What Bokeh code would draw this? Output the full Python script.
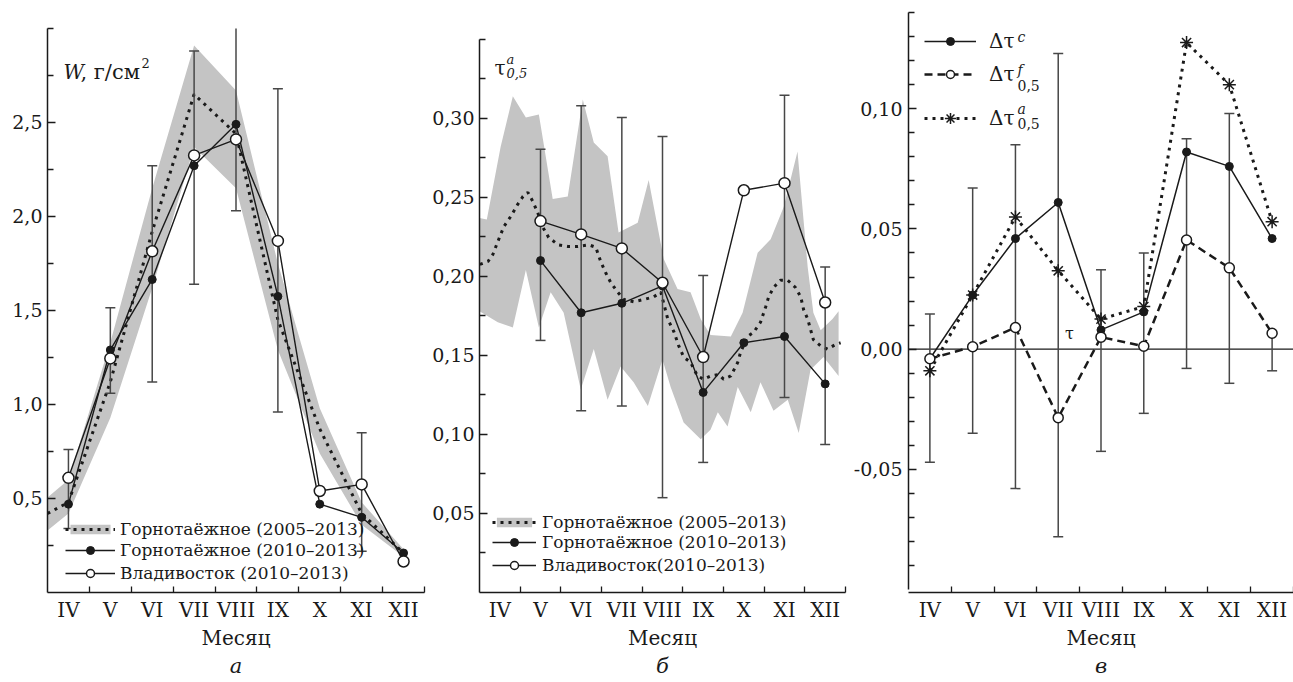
from bokeh.plotting import figure
from bokeh.models import (FixedTicker, CustomJSTickFormatter, Legend, LegendItem, Label, Span,
                          LinearAxis)
from bokeh.layouts import row
from bokeh.embed import file_html
from bokeh.resources import INLINE

FONT = "DejaVu Serif"
INK = "#1a1a1a"
ERR = "#474747"
BAND = "#c4c4c4"

months = ["IV", "V", "VI", "VII", "VIII", "IX", "X", "XI", "XII"]
month_pos = [1, 2, 3, 4, 5, 6, 7, 8, 9]

# ---------- panel a : W, g/cm2 ----------
a_band_x = [0.5, 1, 2, 3, 4, 5, 6, 7, 8, 9]
a_band_lo = [0.33, 0.42, 0.93, 1.62, 2.37, 2.15, 1.29, 0.74, 0.36, 0.19]
a_band_hi = [0.505, 0.60, 1.33, 2.15, 2.91, 2.67, 1.75, 0.98, 0.48, 0.23]
a_mean = [0.42, 0.48, 1.12, 1.92, 2.65, 2.44, 1.45, 0.87, 0.42, 0.21]
a_gorno = [0.47, 1.29, 1.665, 2.27, 2.49, 1.575, 0.47, 0.40, 0.21]
a_vlad = [0.61, 1.245, 1.815, 2.325, 2.41, 1.87, 0.54, 0.575, 0.165]
a_err_x = [1, 2, 3, 4, 5, 6, 8]
a_err_lo = [0.34, 1.06, 1.12, 1.64, 2.03, 0.96, 0.22]
a_err_hi = [0.76, 1.515, 2.27, 2.88, 3.0, 2.68, 0.85]

# ---------- panel b : tau^a_0.5 ----------
b_hi_x = [0.5, 0.68, 1.02, 1.32, 1.64, 1.96, 2.30, 2.67, 3.04, 3.31,
          3.65, 3.92, 4.39, 4.66, 5.03, 5.37, 5.69, 5.94, 6.18, 6.68,
          6.97, 7.34, 7.66, 7.98, 8.32, 8.57, 8.71, 8.89, 9.18, 9.33]
b_hi = [0.237, 0.236, 0.282, 0.314, 0.3006, 0.3025, 0.249, 0.2506, 0.312, 0.2848,
        0.276, 0.2278, 0.234, 0.261, 0.211, 0.192, 0.19, 0.173, 0.163, 0.162,
        0.177, 0.215, 0.2235, 0.244, 0.279, 0.206, 0.177, 0.166, 0.173, 0.178]
b_lo_x = [0.5, 0.95, 1.32, 1.64, 1.96, 2.25, 2.57, 2.99, 3.31, 3.65,
          3.97, 4.29, 4.64, 5.00, 5.20, 5.52, 5.94, 6.18, 6.36, 6.60,
          6.85, 7.17, 7.41, 7.73, 8.08, 8.35, 8.64, 8.96, 9.33]
b_lo = [0.178, 0.171, 0.1677, 0.204, 0.1677, 0.19, 0.177, 0.1285, 0.154, 0.122,
        0.143, 0.133, 0.118, 0.1475, 0.130, 0.1076, 0.097, 0.103, 0.114, 0.105,
        0.130, 0.114, 0.133, 0.115, 0.122, 0.101, 0.141, 0.149, 0.137]
b_mean_x = [0.51, 0.71, 0.83, 0.95, 1.10, 1.27, 1.44, 1.57, 1.69, 1.81,
            1.93, 2.06, 2.20, 2.43, 2.67, 2.92, 3.19, 3.36, 3.48, 3.60,
            3.73, 3.90, 4.05, 4.29, 4.54, 4.78, 4.96, 5.13, 5.28, 5.40,
            5.52, 5.69, 5.86, 6.01, 6.18, 6.38, 6.50, 6.68, 6.85, 6.92,
            7.09, 7.24, 7.41, 7.54, 7.61, 7.73, 7.90, 8.08, 8.27, 8.40,
            8.47, 8.57, 8.71, 8.89, 9.06, 9.26, 9.38]
b_mean = [0.2076, 0.2095, 0.214, 0.222, 0.2316, 0.238, 0.2456, 0.2506, 0.2532, 0.2475,
          0.2405, 0.231, 0.2247, 0.220, 0.219, 0.219, 0.220, 0.2184, 0.2095, 0.2025,
          0.196, 0.190, 0.1854, 0.184, 0.1854, 0.187, 0.19, 0.173, 0.165, 0.156,
          0.149, 0.1456, 0.137, 0.135, 0.137, 0.138, 0.135, 0.137, 0.1456, 0.152,
          0.162, 0.1646, 0.171, 0.181, 0.187, 0.193, 0.1975, 0.1975, 0.193, 0.187,
          0.179, 0.173, 0.160, 0.156, 0.154, 0.157, 0.158]
b_pos = [2, 3, 4, 5, 6, 7, 8, 9]
b_gorno = [0.21, 0.177, 0.183, 0.194, 0.1266, 0.158, 0.162, 0.132]
b_vlad = [0.235, 0.2266, 0.2177, 0.196, 0.149, 0.2545, 0.259, 0.1835]
b_err_x = [2, 3, 4, 5, 6, 8, 9]
b_err_lo = [0.1595, 0.115, 0.118, 0.060, 0.0823, 0.1234, 0.0937]
b_err_hi = [0.2804, 0.308, 0.3006, 0.2886, 0.2006, 0.3146, 0.206]

# ---------- panel c : differences ----------
c_dc = [-0.004, 0.0225, 0.046, 0.061, 0.008, 0.0155, 0.082, 0.076, 0.046]
c_df = [-0.004, 0.001, 0.009, -0.0285, 0.005, 0.0012, 0.0454, 0.0338, 0.0066]
c_da = [-0.009, 0.0225, 0.055, 0.0326, 0.0125, 0.0177, 0.1275, 0.110, 0.053]
c_err_lo = [-0.047, -0.035, -0.058, -0.078, -0.0425, -0.0267, -0.008, -0.0142, -0.009]
c_err_hi = [0.0146, 0.067, 0.085, 0.123, 0.033, 0.040, 0.0875, 0.098, 0.0066]

legend_a = ["Горнотаёжное (2005–2013)", "Горнотаёжное (2010–2013)", "Владивосток (2010–2013)"]
legend_b = ["Горнотаёжное (2005–2013)", "Горнотаёжное (2010–2013)", "Владивосток(2010–2013)"]
panel_letters = ["а", "б", "в"]


def base_fig(width, bl, br, y0, y1, bounds, y_major, y_minor, digits, letter, y_standoff):
    p = figure(width=width, height=682, x_range=(0.5, 9.5), y_range=(y0, y1),
               output_backend="svg", toolbar_location=None, title=None,
               min_border_left=bl, min_border_right=br, min_border_top=12, min_border_bottom=90,
               outline_line_color=None, background_fill_color="white", border_fill_color="white")
    p.xgrid.visible = False
    p.ygrid.visible = False
    xa = p.xaxis[0]
    ya = p.yaxis[0]
    ya.bounds = bounds
    xa.ticker = FixedTicker(ticks=month_pos, minor_ticks=[m + 0.5 for m in month_pos])
    xa.major_label_overrides = dict(zip(month_pos, months))
    ya.ticker = FixedTicker(ticks=y_major, minor_ticks=y_minor)
    ya.formatter = CustomJSTickFormatter(code="return tick.toFixed(%d).replace('.', ',');" % digits)
    for ax in (xa, ya):
        ax.axis_line_color = INK
        ax.axis_line_width = 1.5
        ax.major_tick_line_color = INK
        ax.minor_tick_line_color = INK
        ax.major_tick_line_width = 1.3
        ax.minor_tick_line_width = 1.3
        ax.major_tick_out = 0
        ax.minor_tick_out = 0
        ax.major_label_text_font = FONT
        ax.major_label_text_color = INK
    xa.major_tick_in = 0
    xa.minor_tick_in = 6
    ya.major_tick_in = 8
    ya.minor_tick_in = 6
    xa.major_label_text_font_size = "20px"
    ya.major_label_text_font_size = "19px"
    xa.major_label_standoff = 5
    ya.major_label_standoff = y_standoff
    xa.axis_label = "Месяц"
    xa.axis_label_text_font = FONT
    xa.axis_label_text_font_size = "20px"
    xa.axis_label_text_font_style = "normal"
    xa.axis_label_text_color = INK
    xa.axis_label_standoff = 1
    # panel letter as a label-only axis underneath
    la = LinearAxis(ticker=FixedTicker(ticks=[]), axis_line_color=None,
                    major_tick_line_color=None, minor_tick_line_color=None,
                    major_tick_in=0, major_tick_out=0, minor_tick_in=0, minor_tick_out=0,
                    major_label_standoff=0,
                    axis_label=letter, axis_label_text_font=FONT,
                    axis_label_text_font_size="21px", axis_label_text_font_style="italic",
                    axis_label_text_color=INK, axis_label_standoff=1)
    p.add_layout(la, "below")
    return p


def error_bars(p, xs, lo, hi, top):
    p.segment(x0=xs, y0=lo, x1=xs, y1=hi, line_color=ERR, line_width=1.5)
    cap_x = [x for x, y in zip(xs + xs, lo + hi) if y < top]
    cap_y = [y for y in lo + hi if y < top]
    p.scatter(x=cap_x, y=cap_y, marker="dash", size=10, line_color=ERR, line_width=1.5)


def make_legend(items, loc, gw, gh, standoff, spacing=0, size="17px"):
    return Legend(items=items, location=loc, glyph_width=gw, glyph_height=gh,
                  label_standoff=standoff, spacing=spacing, padding=0, margin=0,
                  border_line_color=None, background_fill_alpha=0,
                  label_text_font=FONT, label_text_font_size=size, label_text_color=INK)


def txt(p, text, x, y, size, style="normal", align="left", baseline="middle"):
    p.add_layout(Label(x=x, y=y, x_units="screen", y_units="screen", text=text,
                       text_font=FONT, text_font_size=size, text_font_style=style,
                       text_color=INK, text_align=align, text_baseline=baseline))


# ================= panel a =================
pa = base_fig(428, 47, 4, 0, 3.085, (0, 3.0), [0.5, 1.0, 1.5, 2.0, 2.5],
              [0.25, 0.75, 1.25, 1.75, 2.25, 2.75, 3.0], 1, panel_letters[0], 5)
band_a = pa.varea(x=a_band_x, y1=a_band_lo, y2=a_band_hi, fill_color=BAND)
mean_a = pa.line(a_band_x, a_mean, line_color=INK, line_width=3, line_dash="3 5")
error_bars(pa, a_err_x, a_err_lo, a_err_hi, 3.0)
ga_line = pa.line(month_pos, a_gorno, line_color=INK, line_width=1.4)
va_line = pa.line(month_pos, a_vlad, line_color=INK, line_width=1.4)
ga_pts = pa.scatter(month_pos, a_gorno, size=8, fill_color=INK, line_color=INK)
va_pts = pa.scatter(month_pos, a_vlad, size=11, fill_color="white", line_color=INK, line_width=1.5)
pa.add_layout(make_legend([LegendItem(label=legend_a[0], renderers=[band_a, mean_a])],
                          (18, 53), 50, 12, 5))
pa.add_layout(make_legend([LegendItem(label=legend_a[1], renderers=[ga_line, ga_pts]),
                           LegendItem(label=legend_a[2], renderers=[va_line, va_pts])],
                          (18, 9), 50, 20, 5, spacing=3))
txt(pa, "W", 16, 521, "20px", style="italic", baseline="alphabetic")
txt(pa, ", г/см", 33, 521, "21px", baseline="alphabetic")
txt(pa, "2", 94, 530, "13px", baseline="alphabetic")

# ================= panel b =================
pb = base_fig(422, 51, 5, 0, 0.367, (0, 0.35), [0.05, 0.10, 0.15, 0.20, 0.25, 0.30],
              [0.025, 0.075, 0.125, 0.175, 0.225, 0.275, 0.325, 0.35], 2, panel_letters[1], 5)
band_b = pb.patch(x=b_hi_x + b_lo_x[::-1], y=b_hi + b_lo[::-1], fill_color=BAND, line_color=None)
mean_b = pb.line(b_mean_x, b_mean, line_color=INK, line_width=3, line_dash="3 5")
error_bars(pb, b_err_x, b_err_lo, b_err_hi, 0.35)
gb_line = pb.line(b_pos, b_gorno, line_color=INK, line_width=1.4)
vb_line = pb.line(b_pos, b_vlad, line_color=INK, line_width=1.4)
gb_pts = pb.scatter(b_pos, b_gorno, size=8, fill_color=INK, line_color=INK)
vb_pts = pb.scatter(b_pos, b_vlad, size=11, fill_color="white", line_color=INK, line_width=1.5)
pb.add_layout(make_legend([LegendItem(label=legend_b[0], renderers=[band_b, mean_b])],
                          (13, 60), 44, 12, 6))
pb.add_layout(make_legend([LegendItem(label=legend_b[1], renderers=[gb_line, gb_pts]),
                           LegendItem(label=legend_b[2], renderers=[vb_line, vb_pts])],
                          (13, 17), 44, 20, 6, spacing=3))
txt(pb, "τ", 15, 525, "20px")
txt(pb, "a", 27, 533, "13px", style="italic")
txt(pb, "0,5", 27, 520, "13px", style="italic")

# ================= panel c =================
c_minor = [round(-0.09 + 0.01 * i, 2) for i in range(24)]
c_major = [-0.05, 0.0, 0.05, 0.10]
c_minor = [t for t in c_minor if all(abs(t - m) > 1e-9 for m in c_major)]
pc = base_fig(443, 57, 0, -0.1012, 0.14, (-0.10, 0.14), c_major, c_minor, 2, panel_letters[2], 6)
pc.add_layout(Span(location=0, dimension="width", line_color=INK, line_width=1.3, level="underlay"))
error_bars(pc, month_pos, c_err_lo, c_err_hi, 0.14)
lf = pc.line(month_pos, c_df, line_color=INK, line_width=2.5, line_dash="8 5")
la = pc.line(month_pos, c_da, line_color=INK, line_width=3, line_dash="3 5")
lc = pc.line(month_pos, c_dc, line_color=INK, line_width=1.5)
pa_ = pc.scatter(month_pos, c_da, marker="asterisk", size=13, line_color=INK, line_width=1.5)
pc_ = pc.scatter(month_pos, c_dc, size=8, fill_color=INK, line_color=INK)
pf_ = pc.scatter(month_pos, c_df, size=10, fill_color="white", line_color=INK, line_width=1.5)
pc.add_layout(make_legend([LegendItem(label="Δτ", renderers=[lc, pc_])], (16, 539), 52, 20, 13, size="20px"))
pc.add_layout(make_legend([LegendItem(label="Δτ", renderers=[lf, pf_])], (16, 506), 52, 20, 13, size="20px"))
pc.add_layout(make_legend([LegendItem(label="Δτ", renderers=[la, pa_])], (16, 460), 52, 28, 13, size="20px"))
txt(pc, "c", 109, 556, "14px", style="italic")
txt(pc, "f", 109, 523, "14px", style="italic")
txt(pc, "0,5", 109, 507, "14px")
txt(pc, "a", 109, 484, "14px", style="italic")
txt(pc, "0,5", 109, 469, "14px")
pc.add_layout(Label(x=4.26, y=0.0067, text="τ", text_font=FONT, text_font_size="16px",
                    text_color=INK, text_align="center", text_baseline="middle"))

layout = row(pa, pb, pc)
open("out.html", "w").write(file_html(layout, INLINE))
